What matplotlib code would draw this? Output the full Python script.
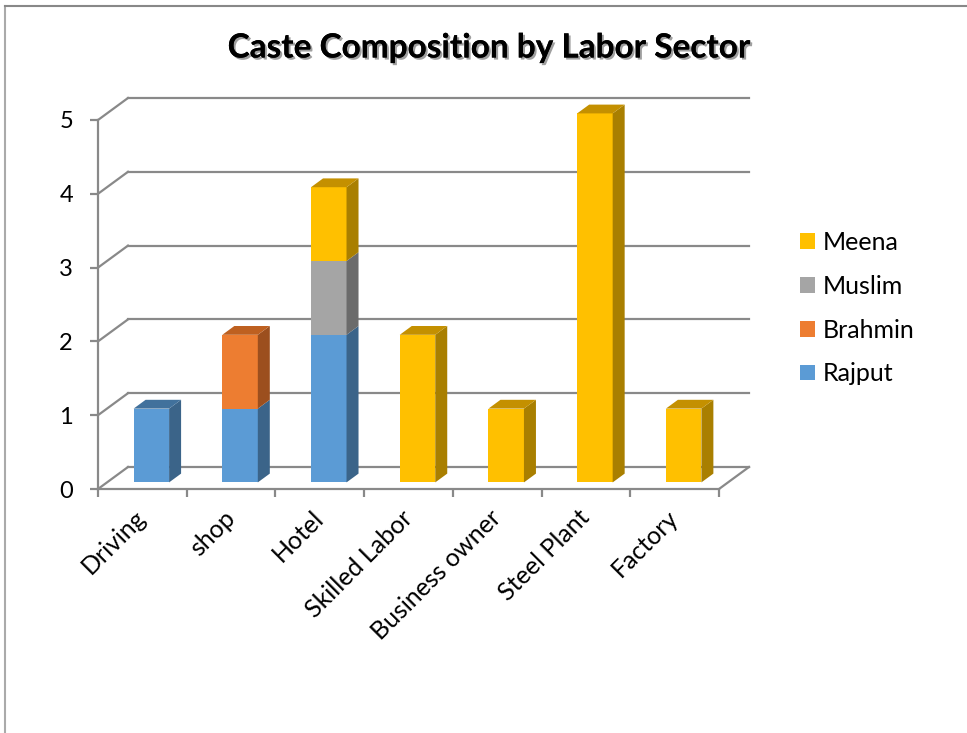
import matplotlib.pyplot as plt
from matplotlib.patches import Polygon, Patch
from matplotlib.lines import Line2D
import matplotlib.patheffects as pe

plt.rcParams['font.family'] = ['Lato', 'DejaVu Sans']

# data
categories = ['Driving', 'shop', 'Hotel', 'Skilled Labor', 'Business owner', 'Steel Plant', 'Factory']
rajput = [1, 1, 2, 0, 0, 0, 0]
brahmin = [0, 1, 0, 0, 0, 0, 0]
muslim = [0, 0, 1, 0, 0, 0, 0]
meena = [0, 0, 1, 2, 1, 5, 1]
yticks = [0, 1, 2, 3, 4, 5]

# stacking order bottom -> top, with front / side / top face colours
stack = [
    ('Rajput', rajput, '#5B9BD5', '#3B6489', '#41719C'),
    ('Brahmin', brahmin, '#ED7D31', '#9C4F1E', '#BE6020'),
    ('Muslim', muslim, '#A5A5A5', '#6B6B6B', '#888888'),
    ('Meena', meena, '#FFC000', '#A97F00', '#C49000'),
]

grid = '#898989'
DX, DY = 0.338, 0.298       # full depth of the 3d box in data units
FRONT, BACK = 0.3, 0.7      # depth range occupied by bars
W0, W1 = 0.3, 0.7           # bar extent inside a category slot

fig = plt.figure(figsize=(9.67, 7.33), dpi=100)
ax = fig.add_axes([98 / 967, (733 - 489) / 733, (719 - 98) / 967, (489 - 120) / 733])
ax.set_xlim(0, len(categories))
ax.set_ylim(0, 5)

n = len(categories)
# back wall gridlines + left wall diagonals
for v in yticks:
    ax.plot([DX, n + DX], [v + DY, v + DY], color=grid, lw=1.6, clip_on=False, zorder=1)
    ax.plot([0, DX], [v, v + DY], color=grid, lw=1.6, clip_on=False, zorder=1)
ax.plot([n, n + DX], [0, DY], color=grid, lw=1.6, clip_on=False, zorder=1)

# bars
for i in range(n):
    bottom = 0
    top_idx = max(k for k, s in enumerate(stack) if s[1][i] > 0)
    for k, (name, vals, cf, cs, ct) in enumerate(stack):
        val = vals[i]
        if val <= 0:
            continue
        x0 = i + W0 + FRONT * DX
        x1 = i + W1 + FRONT * DX
        y0 = bottom + FRONT * DY
        y1 = bottom + val + FRONT * DY
        ddx = (BACK - FRONT) * DX
        ddy = (BACK - FRONT) * DY
        ax.add_patch(Polygon([(x0, y0), (x1, y0), (x1, y1), (x0, y1)], closed=True,
                             facecolor=cf, edgecolor='none', clip_on=False, zorder=3))
        ax.add_patch(Polygon([(x1, y0), (x1 + ddx, y0 + ddy), (x1 + ddx, y1 + ddy), (x1, y1)],
                             closed=True, facecolor=cs, edgecolor='none', clip_on=False, zorder=3))
        if k == top_idx:
            ax.add_patch(Polygon([(x0, y1), (x1, y1), (x1 + ddx, y1 + ddy), (x0 + ddx, y1 + ddy)],
                                 closed=True, facecolor=ct, edgecolor='none', clip_on=False, zorder=3))
        bottom += val

# axes styling
for s in ['top', 'right']:
    ax.spines[s].set_visible(False)
for s in ['left', 'bottom']:
    ax.spines[s].set_color(grid)
    ax.spines[s].set_linewidth(1.6)
ax.set_facecolor('none')

ax.set_yticks(yticks)
ax.set_yticklabels([str(v) for v in yticks])
ax.tick_params(axis='y', length=6, width=1.6, color=grid, labelsize=17, pad=12)

ax.set_xticks(range(n + 1))
ax.set_xticklabels([])
ax.set_xticks([i + 0.5 for i in range(n)], minor=True)
ax.set_xticklabels(categories, minor=True, rotation=45, ha='right', va='center',
                   rotation_mode='anchor', fontsize=18)
ax.tick_params(axis='x', which='major', length=6, width=1.6, color=grid)
ax.tick_params(axis='x', which='minor', length=0, pad=18)

# title with shadow
fig.text(0.506, 1 - 48 / 733, 'Caste Composition by Labor Sector', ha='center', va='center',
         fontsize=24, fontweight='bold',
         path_effects=[pe.withSimplePatchShadow(offset=(1.5, -1.5), shadow_rgbFace='#777777', alpha=0.7),
                       pe.Normal()])

# legend (top series first)
handles = [Patch(facecolor=c[2], edgecolor='none', label=c[0]) for c in reversed(stack)]
fig.legend(handles=handles, loc='upper left', bbox_to_anchor=(800 / 967, 1 - 231 / 733),
           frameon=False, fontsize=18, handlelength=0.6, handleheight=0.6,
           handletextpad=0.3, labelspacing=0.83, borderaxespad=0, borderpad=0)

# chart border (left and top edges visible)
fig.add_artist(Line2D([5 / 967, 5 / 967], [0, 1 - 6 / 733], transform=fig.transFigure,
                      color='#aaaaaa', lw=1.5))
fig.add_artist(Line2D([5 / 967, 1], [1 - 6 / 733, 1 - 6 / 733], transform=fig.transFigure,
                      color='#888888', lw=1.5))

fig.savefig('out.png', dpi=100)
